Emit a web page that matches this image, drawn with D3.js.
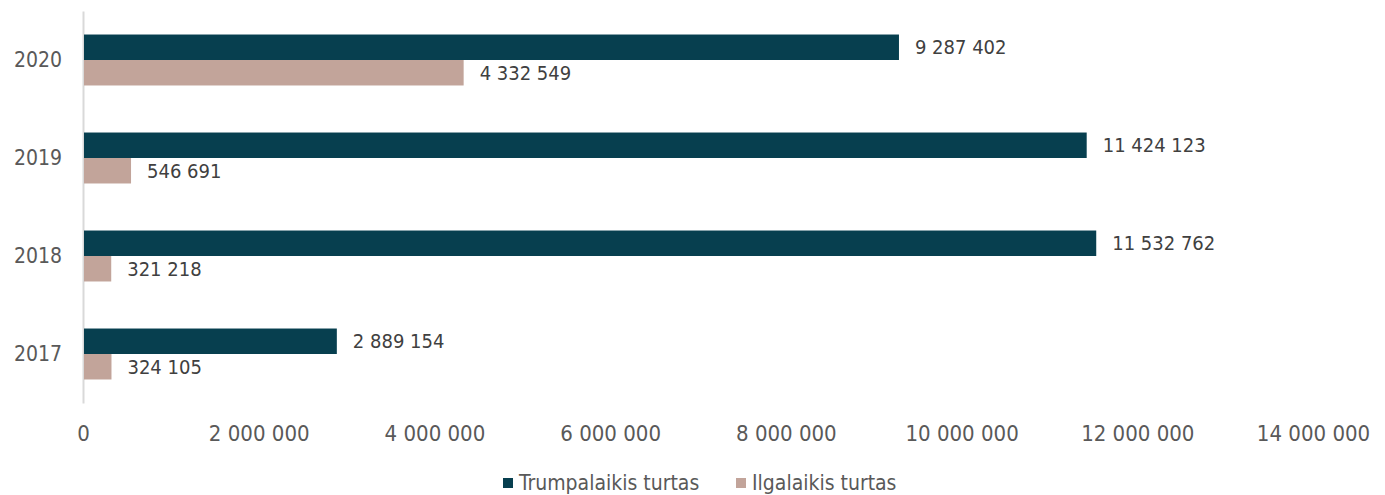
<!DOCTYPE html>
<html>
<head>
<meta charset="utf-8">
<script src="https://cdn.jsdelivr.net/npm/d3@7"></script>
<style>
    body { margin: 0; background: #fff; }
    #chart { width: 1385px; height: 495px; }
    text { font-family: "DejaVu Sans Condensed", "DejaVu Sans", sans-serif; }
</style>
</head>
<body>
<div id="chart"></div>
<script>
// data
const years = ["2020", "2019", "2018", "2017"];
const trumpalaikis = [9287402, 11424123, 11532762, 2889154];
const ilgalaikis = [4332549, 546691, 321218, 324105];
const seriesNames = ["Trumpalaikis turtas", "Ilgalaikis turtas"];
const xTicks = [0, 2000000, 4000000, 6000000, 8000000, 10000000, 12000000, 14000000];

const colors = ["#073F4F", "#C2A49A"];

const width = 1385;
const height = 495;
const margin = { top: 11, left: 83, right: 72, bottom: 92 };

const svg = d3.select("#chart")
    .append("svg")
    .attr("width", width)
    .attr("height", height);

const fmt = function (v) {
    return d3.format(",")(v).replace(/,/g, " ");
};

/*
SCALES
*/
const xScale = d3.scaleLinear()
    .domain([0, 14000000])
    .range([margin.left, width - margin.right]);

const yScale = d3.scaleBand()
    .domain(years)
    .range([margin.top, height - margin.bottom])
    .paddingInner(0.48)
    .paddingOuter(0.24);

const sub = d3.scaleBand()
    .domain([0, 1])
    .range([0, yScale.bandwidth()]);

/*
AXES
*/
const xAxis = svg.append("g")
    .attr("transform", `translate(0,${height - margin.bottom})`)
    .call(d3.axisBottom(xScale).tickValues(xTicks).tickSize(0).tickPadding(22).tickFormat(fmt));
xAxis.select(".domain").remove();
xAxis.selectAll("text")
    .attr("fill", "#595959")
    .style("font-size", "22px");

const yAxis = svg.append("g")
    .attr("transform", `translate(${margin.left},0)`)
    .call(d3.axisLeft(yScale).tickSize(0).tickPadding(21));
yAxis.select(".domain").attr("stroke", "#D9D9D9").attr("stroke-width", 2);
yAxis.selectAll("text")
    .attr("fill", "#595959")
    .style("font-size", "21px");

/*
BARS
*/
const rows = years.map(function (y, i) {
    return { year: y, values: [trumpalaikis[i], ilgalaikis[i]] };
});

const groups = svg.selectAll(".grp")
    .data(rows)
    .enter()
    .append("g")
    .attr("class", "grp")
    .attr("transform", d => `translate(0,${yScale(d.year)})`);

groups.selectAll("rect")
    .data(d => d.values)
    .enter()
    .append("rect")
    .attr("x", xScale(0) + 1)
    .attr("y", (d, i) => sub(i))
    .attr("width", d => xScale(d) - xScale(0) - 1)
    .attr("height", sub.bandwidth())
    .attr("fill", (d, i) => colors[i]);

groups.selectAll(".lbl")
    .data(d => d.values)
    .enter()
    .append("text")
    .attr("class", "lbl")
    .attr("x", d => xScale(d) + 16)
    .attr("y", (d, i) => sub(i) + sub.bandwidth() / 2)
    .attr("dy", "0.35em")
    .attr("fill", "#404040")
    .style("font-size", "20px")
    .text(fmt);

/*
LEGEND
*/
const legendX = [503, 736];
const legend = svg.selectAll(".legend")
    .data(seriesNames)
    .enter()
    .append("g")
    .attr("class", "legend")
    .attr("transform", (d, i) => `translate(${legendX[i]},478)`);

legend.append("rect")
    .attr("width", 10)
    .attr("height", 10)
    .attr("fill", (d, i) => colors[i]);

legend.append("text")
    .attr("x", 16)
    .attr("y", 5)
    .attr("dy", "0.35em")
    .attr("fill", "#595959")
    .style("font-size", "21px")
    .text(d => d);
</script>
</body>
</html>
